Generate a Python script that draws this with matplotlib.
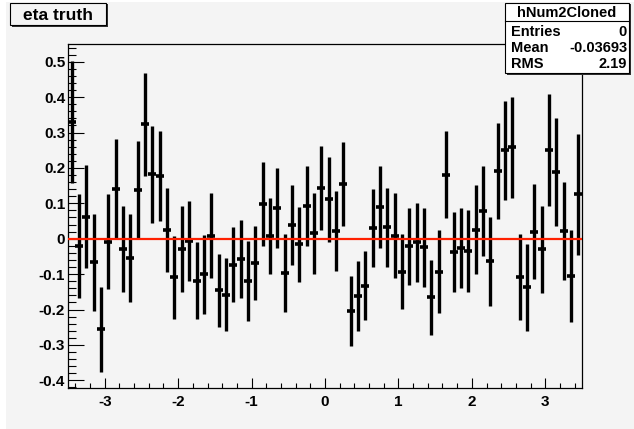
import numpy as np
import matplotlib
matplotlib.use("Agg")
import matplotlib.pyplot as plt
from matplotlib.patches import Rectangle
from matplotlib.ticker import MultipleLocator

plt.rcParams['font.family'] = ['Liberation Sans', 'DejaVu Sans']
plt.rcParams['font.weight'] = 'bold'

# ---- data ----
x_min, x_max, n_bins = -3.5, 3.5, 70
values = [0.330, -0.021, 0.062, -0.067, -0.256, -0.008, 0.141, -0.029, -0.054, 0.137,
          0.323, 0.182, 0.178, 0.024, -0.109, -0.029, -0.006, -0.119, -0.101, 0.008,
          -0.146, -0.158, -0.073, -0.057, -0.120, -0.069, 0.098, 0.008, 0.086, -0.097,
          0.039, -0.016, 0.092, 0.015, 0.143, 0.111, 0.021, 0.155, -0.204, -0.163,
          -0.133, 0.030, 0.090, 0.032, 0.009, -0.093, -0.022, -0.010, -0.024, -0.166,
          -0.093, 0.181, -0.037, -0.026, -0.034, 0.025, 0.079, -0.064, 0.191, 0.250,
          0.258, -0.109, -0.137, 0.020, -0.030, 0.250, 0.188, 0.021, -0.105, 0.126]
errors = [0.172, 0.147, 0.145, 0.137, 0.120, 0.135, 0.141, 0.122, 0.124, 0.139,
          0.145, 0.137, 0.127, 0.119, 0.117, 0.121, 0.113, 0.109, 0.112, 0.120,
          0.104, 0.104, 0.107, 0.111, 0.113, 0.105, 0.119, 0.108, 0.113, 0.110,
          0.113, 0.105, 0.112, 0.115, 0.118, 0.120, 0.113, 0.118, 0.099, 0.099,
          0.098, 0.110, 0.116, 0.112, 0.119, 0.105, 0.108, 0.112, 0.112, 0.107,
          0.117, 0.123, 0.113, 0.114, 0.116, 0.126, 0.127, 0.125, 0.135, 0.140,
          0.143, 0.122, 0.123, 0.135, 0.123, 0.158, 0.152, 0.139, 0.129, 0.171]
fit_value = 0.0
title = "eta truth"
stats_name = "hNum2Cloned"
stats_rows = [("Entries", "0"), ("Mean", "-0.03693"), ("RMS", "2.19")]
y_min, y_max = -0.4217, 0.55

edges = np.linspace(x_min, x_max, n_bins + 1)
centers = 0.5 * (edges[:-1] + edges[1:])

W, H = 634, 429
bg = '#f4f4f4'
fig = plt.figure(figsize=(W / 100, H / 100), dpi=100, facecolor=bg)

def fx(px):
    return px / W

def fy(py):
    return 1 - py / H

# white edge strips
fig.patches.append(Rectangle((0, 0), fx(6), 1, transform=fig.transFigure, facecolor='white', edgecolor='none', zorder=0))
fig.patches.append(Rectangle((0, fy(2)), 1, fy(0) - fy(2), transform=fig.transFigure, facecolor='white', edgecolor='none', zorder=0))

L, R, T, B = 68, 582, 44, 388
ax = fig.add_axes([fx(L), fy(B), fx(R - L), fy(T) - fy(B)])
ax.set_facecolor(bg)
ax.set_xlim(x_min, x_max)
ax.set_ylim(y_min, y_max)

ax.errorbar(centers, values, yerr=errors, fmt='none', ecolor='black', elinewidth=2.4, capsize=0, zorder=3)
ax.plot(centers, values, linestyle='none', marker='_', markersize=6, markeredgewidth=2.6, color='black', zorder=3)
ax.plot([x_min, x_max], [fit_value, fit_value], color='#ff2000', lw=1.6, zorder=4)

for s in ax.spines.values():
    s.set_linewidth(0.9)
    s.set_color('black')

ax.xaxis.set_major_locator(MultipleLocator(1))
ax.xaxis.set_minor_locator(MultipleLocator(0.2))
ax.yaxis.set_major_locator(MultipleLocator(0.1))
ax.yaxis.set_minor_locator(MultipleLocator(0.02))
ax.tick_params(axis='x', which='major', direction='in', length=7.2, width=0.8, pad=5, labelsize=11)
ax.tick_params(axis='x', which='minor', direction='in', length=3.6, width=0.8)
ax.tick_params(axis='y', which='major', direction='in', length=11.5, width=0.8, pad=2, labelsize=11)
ax.tick_params(axis='y', which='minor', direction='in', length=5.8, width=0.8)

def fmt(v, pos):
    if abs(v) < 1e-9:
        return "0"
    return ("%g" % round(v, 3))
ax.xaxis.set_major_formatter(plt.FuncFormatter(fmt))
ax.yaxis.set_major_formatter(plt.FuncFormatter(fmt))
for lab in ax.get_xticklabels() + ax.get_yticklabels():
    lab.set_fontweight('bold')

# title box
tx0, ty0, tx1, ty1 = 10, 3, 106, 25
fig.patches.append(Rectangle((fx(tx0 + 1.5), fy(ty1 + 1.5)), fx(tx1 - tx0), fy(ty0) - fy(ty1),
                             transform=fig.transFigure, facecolor='#303030', edgecolor='none', zorder=5))
fig.patches.append(Rectangle((fx(tx0), fy(ty1)), fx(tx1 - tx0), fy(ty0) - fy(ty1),
                             transform=fig.transFigure, facecolor=bg, edgecolor='black', lw=0.8, zorder=6))
fig.text(fx((tx0 + tx1) / 2), fy((ty0 + ty1) / 2 + 1), title, ha='center', va='center',
         fontsize=12.5, fontweight='bold', zorder=7)

# stats box
sx0, sy0, sx1, sy1 = 505, 3, 629, 73
fig.patches.append(Rectangle((fx(sx0 + 1.5), fy(sy1 + 1.5)), fx(sx1 - sx0), fy(sy0) - fy(sy1),
                             transform=fig.transFigure, facecolor='#303030', edgecolor='none', zorder=5))
fig.patches.append(Rectangle((fx(sx0), fy(sy1)), fx(sx1 - sx0), fy(sy0) - fy(sy1),
                             transform=fig.transFigure, facecolor='white', edgecolor='black', lw=0.8, zorder=6))
fig.lines.append(plt.Line2D([fx(sx0), fx(sx1)], [fy(21), fy(21)], transform=fig.transFigure,
                            color='black', lw=0.8, zorder=7))
fig.text(fx((sx0 + sx1) / 2), fy(13), stats_name, ha='center', va='center', fontsize=10.5,
         fontweight='bold', zorder=8)
row_y = [32, 48, 63.5]
for (k, v), yy in zip(stats_rows, row_y):
    fig.text(fx(511), fy(yy), k, ha='left', va='center', fontsize=10.5, fontweight='bold', zorder=8)
    fig.text(fx(627), fy(yy), v, ha='right', va='center', fontsize=10.5, fontweight='bold', zorder=8)

fig.savefig('out.png', dpi=100, facecolor=bg)
